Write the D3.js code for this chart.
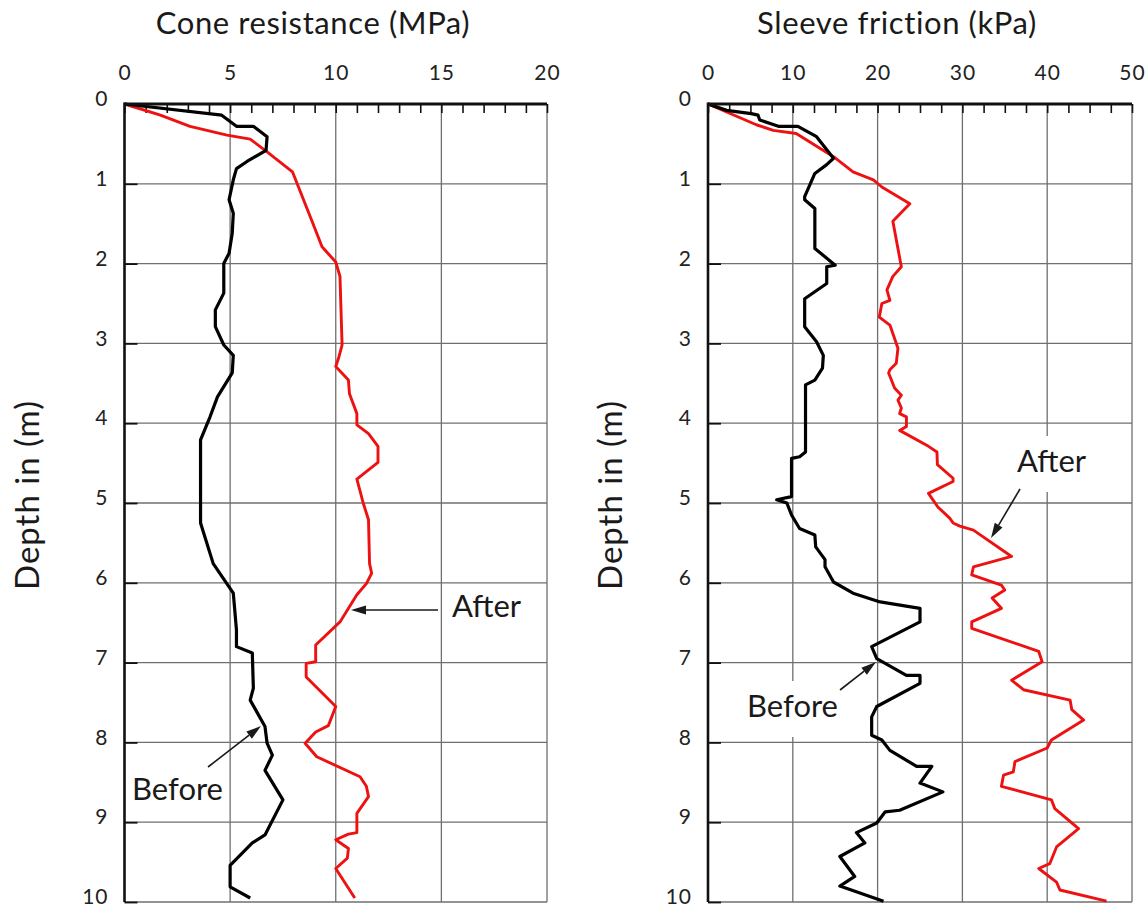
<!DOCTYPE html>
<html>
<head>
<meta charset="utf-8">
<script src="https://cdn.jsdelivr.net/npm/d3@7"></script>
<style>
  html, body { margin: 0; padding: 0; background: #fff; }
  svg { display: block; font-family: "Lato", "Open Sans", sans-serif; }
</style>
</head>
<body>
<svg id="chart" width="1147" height="907"></svg>
<script>
// ---------- DATA ----------
const depthTicks = [0,1,2,3,4,5,6,7,8,9,10];
const coneTicks = [0,5,10,15,20];
const sleeveTicks = [0,10,20,30,40,50];

// [value, depth (m)]
const coneBefore = [[0,0],[4.6,0.14],[5.3,0.28],[6.1,0.28],[6.75,0.41],[6.7,0.58],[5.8,0.72],[5.3,0.81],[5.15,0.95],[4.95,1.2],[5.15,1.37],[5.1,1.62],[4.95,1.87],[4.7,2.0],[4.7,2.37],[4.3,2.58],[4.3,2.79],[4.7,3.02],[5.15,3.15],[5.1,3.37],[4.4,3.67],[4.05,3.92],[3.6,4.21],[3.6,5.25],[4.2,5.76],[5.15,6.13],[5.3,6.59],[5.3,6.8],[6.05,6.88],[6.1,7.32],[5.95,7.47],[6.65,7.8],[6.75,8.01],[7.0,8.16],[6.65,8.35],[7.5,8.72],[6.65,9.16],[6.05,9.26],[5.0,9.54],[5.0,9.81],[5.95,9.95]];

const coneAfter = [[0,0],[1.7,0.14],[3.1,0.28],[4.85,0.39],[5.95,0.44],[6.75,0.6],[7.95,0.85],[8.85,1.45],[9.35,1.79],[10.0,1.98],[10.2,2.16],[10.3,3.02],[10.15,3.17],[10.0,3.29],[10.6,3.46],[10.65,3.63],[11.0,3.88],[11.0,4.02],[11.55,4.13],[12.0,4.29],[12.0,4.49],[11.0,4.7],[11.3,5.0],[11.55,5.21],[11.6,5.76],[11.7,5.88],[11.45,6.01],[11.0,6.15],[10.2,6.49],[9.05,6.78],[9.05,6.99],[8.6,7.01],[8.6,7.18],[10.0,7.55],[9.65,7.79],[9.05,7.87],[8.55,8.01],[9.1,8.18],[11.15,8.43],[11.45,8.55],[11.55,8.68],[11.0,8.89],[11.0,9.13],[10.6,9.15],[10.0,9.22],[10.6,9.33],[10.55,9.45],[10.0,9.58],[10.9,9.95]];

const sleeveBefore = [[0,0],[2.2,0.08],[5.1,0.12],[5.9,0.14],[6.1,0.2],[8.3,0.28],[10.6,0.28],[12.8,0.41],[14.8,0.68],[14.0,0.76],[12.6,0.87],[11.4,1.16],[11.4,1.2],[12.6,1.31],[12.6,1.81],[15.0,2.02],[14.0,2.04],[14.0,2.25],[11.4,2.44],[11.4,2.79],[12.8,2.98],[13.6,3.15],[13.5,3.31],[12.6,3.46],[11.5,3.52],[11.5,4.36],[10.8,4.42],[9.85,4.44],[9.85,4.92],[8.1,4.96],[9.3,5.0],[9.85,5.15],[10.8,5.32],[12.6,5.4],[12.7,5.55],[13.8,5.71],[13.8,5.8],[14.8,5.99],[17.1,6.13],[20.3,6.24],[25.0,6.32],[25.0,6.49],[19.3,6.8],[19.9,6.95],[23.4,7.16],[25.0,7.16],[25.0,7.26],[19.9,7.55],[19.3,7.68],[19.3,7.91],[20.5,7.97],[21.45,8.1],[24.6,8.3],[26.4,8.3],[25.0,8.51],[27.7,8.62],[22.6,8.85],[20.9,8.87],[19.9,9.01],[17.5,9.13],[18.5,9.26],[15.55,9.43],[17.3,9.68],[15.55,9.8],[20.7,9.99]];

const sleeveAfter = [[0,0],[5.7,0.26],[7.7,0.33],[10.4,0.37],[14.8,0.66],[17.1,0.85],[19.5,0.95],[20.5,1.04],[23.8,1.25],[21.8,1.47],[22.8,2.04],[21.8,2.16],[21.1,2.33],[21.45,2.46],[20.5,2.5],[20.2,2.67],[21.45,2.77],[22.4,3.06],[22.2,3.25],[21.45,3.33],[21.3,3.37],[22.0,3.56],[22.8,3.65],[22.4,3.71],[22.8,3.81],[22.6,3.88],[23.4,3.92],[23.4,4.04],[22.6,4.09],[26.0,4.29],[27.0,4.36],[27.05,4.52],[28.9,4.69],[28.9,4.73],[26.0,4.88],[27.1,5.05],[28.5,5.19],[28.9,5.25],[29.7,5.29],[31.3,5.34],[35.8,5.67],[31.3,5.8],[31.1,5.9],[34.6,6.03],[35.0,6.09],[33.5,6.19],[34.6,6.32],[31.1,6.49],[31.1,6.57],[39.0,6.86],[39.4,6.99],[35.8,7.22],[37.2,7.34],[42.7,7.47],[42.9,7.59],[44.3,7.72],[40.5,7.97],[40.0,8.07],[36.2,8.24],[36.0,8.37],[34.85,8.41],[34.6,8.55],[40.5,8.72],[40.9,8.83],[43.7,9.08],[42.1,9.22],[41.1,9.31],[40.3,9.52],[39.0,9.58],[41.1,9.75],[41.5,9.85],[47.0,9.99]];

const titles = ["Cone resistance (MPa)", "Sleeve friction (kPa)"];
const yTitle = "Depth in (m)";

// ---------- DRAW ----------
const svg = d3.select("#chart");
const gridColor = "#6f6f6f";
const redColor = "#ee1111";
const textColor = "#1a1a1a";

const panels = [
  { x0: 124.5, x1: 547, domain: [0,20], majors: coneTicks, minorStep: 1, title: titles[0], titleX: 313,
    before: coneBefore, after: coneAfter,
    ann: [
      { text: "After", tx: 452, ty: 617, ax1: 438, ay1: 610, ax2: 351, ay2: 610, bg: false },
      { text: "Before", tx: 132, ty: 800, ax1: 208, ay1: 767, ax2: 261, ay2: 726, bg: false }
    ] },
  { x0: 708, x1: 1132, domain: [0,50], majors: sleeveTicks, minorStep: 2.5, title: titles[1], titleX: 897,
    before: sleeveBefore, after: sleeveAfter,
    ann: [
      { text: "After", tx: 1017, ty: 472, ax1: 1020, ay1: 489, ax2: 991, ay2: 538, bg: true },
      { text: "Before", tx: 747, ty: 717, ax1: 840, ay1: 690, ax2: 876, ay2: 662, bg: true }
    ] }
];

const yTop = 104, yBot = 902;

panels.forEach(p => {
  const x = d3.scaleLinear().domain(p.domain).range([p.x0, p.x1]);
  const y = d3.scaleLinear().domain([0,10]).range([yTop, yBot]);
  const g = svg.append("g");

  // grid: horizontal
  g.append("g").selectAll("line").data(depthTicks.slice(1)).join("line")
    .attr("x1", p.x0).attr("x2", p.x1)
    .attr("y1", d => y(d)).attr("y2", d => y(d))
    .attr("stroke", gridColor).attr("stroke-width", 1.3);
  // grid: vertical
  g.append("g").selectAll("line").data(p.majors.slice(1)).join("line")
    .attr("x1", d => x(d)).attr("x2", d => x(d))
    .attr("y1", yTop).attr("y2", yBot)
    .attr("stroke", gridColor).attr("stroke-width", 1.3);

  // minor ticks on top axis (pointing down)
  const minors = d3.range(p.domain[0], p.domain[1] + 1e-9, p.minorStep);
  const minorAxis = d3.axisBottom(x).tickValues(minors).tickSize(9).tickFormat("");
  const mg = g.append("g").attr("transform", `translate(0,${yTop})`).call(minorAxis);
  mg.select(".domain").remove();
  mg.selectAll("line").attr("stroke", "#111").attr("stroke-width", 1.6);

  // inward ticks on left axis
  const inAxis = d3.axisRight(y).tickValues(depthTicks.slice(1)).tickSize(13).tickFormat("");
  const ig = g.append("g").attr("transform", `translate(${p.x0},0)`).call(inAxis);
  ig.select(".domain").remove();
  ig.selectAll("line").attr("stroke", "#111").attr("stroke-width", 1.8);

  // top labels
  const topAxis = d3.axisTop(x).tickValues(p.majors).tickSize(0).tickPadding(24).tickFormat(d3.format("d"));
  const tg = g.append("g").attr("transform", `translate(0,${yTop})`).call(topAxis);
  tg.select(".domain").remove();
  tg.selectAll("text").attr("font-size", 21).attr("fill", "#222").attr("font-family", "Lato")
    .attr("letter-spacing", 1);

  // left labels
  const leftAxis = d3.axisLeft(y).tickValues(depthTicks).tickSize(0).tickPadding(16).tickFormat(d3.format("d"));
  const lg = g.append("g").attr("transform", `translate(${p.x0},0)`).call(leftAxis);
  lg.select(".domain").remove();
  lg.selectAll("text").attr("font-size", 21).attr("fill", "#222").attr("dy", "0.08em")
    .attr("font-family", "Lato").attr("letter-spacing", 1);

  // annotation backgrounds & text
  const annG = g.append("g");
  p.ann.forEach(a => {
    const t = annG.append("text").attr("x", a.tx).attr("y", a.ty)
      .attr("font-size", 31).attr("fill", textColor).attr("font-family", "Lato").text(a.text);
    if (a.bg) {
      const bb = t.node().getBBox();
      annG.insert("rect", () => t.node())
        .attr("x", bb.x - 4).attr("y", a.ty - 36).attr("width", bb.width + 8).attr("height", 56)
        .attr("fill", "#fff");
    }
  });

  // data lines
  const line = d3.line().x(d => x(d[0])).y(d => y(d[1]));
  g.append("path").datum(p.after).attr("d", line)
    .attr("fill", "none").attr("stroke", redColor).attr("stroke-width", 2.9)
    .attr("stroke-linejoin", "round");
  g.append("path").datum(p.before).attr("d", line)
    .attr("fill", "none").attr("stroke", "#000").attr("stroke-width", 3.2)
    .attr("stroke-linejoin", "round");

  // axes domain lines (black)
  g.append("line").attr("x1", p.x0).attr("x2", p.x1).attr("y1", yTop).attr("y2", yTop)
    .attr("stroke", "#111").attr("stroke-width", 3);
  g.append("line").attr("x1", p.x0).attr("x2", p.x0).attr("y1", yTop - 1.5).attr("y2", yBot)
    .attr("stroke", "#111").attr("stroke-width", 2.6);

  // arrows
  p.ann.forEach(a => {
    const dx = a.ax2 - a.ax1, dy = a.ay2 - a.ay1;
    const len = Math.hypot(dx, dy), ux = dx / len, uy = dy / len;
    const hl = 15, hw = 4.5;
    const bx = a.ax2 - ux * hl, by = a.ay2 - uy * hl;
    g.append("line").attr("x1", a.ax1).attr("y1", a.ay1).attr("x2", bx).attr("y2", by)
      .attr("stroke", textColor).attr("stroke-width", 1.6);
    g.append("path")
      .attr("d", `M${a.ax2},${a.ay2}L${bx - uy * hw},${by + ux * hw}L${bx + uy * hw},${by - ux * hw}Z`)
      .attr("fill", textColor);
  });

  // titles
  g.append("text").attr("x", p.titleX).attr("y", 34).attr("text-anchor", "middle")
    .attr("font-size", 31).attr("letter-spacing", 0.6).attr("fill", textColor)
    .attr("font-family", "Lato").text(p.title);
  g.append("text").attr("transform", `translate(${p.x0 - 86},495) rotate(-90)`)
    .attr("text-anchor", "middle").attr("font-size", 33).attr("letter-spacing", 1)
    .attr("fill", textColor).attr("font-family", "Lato").text(yTitle);
});
</script>
</body>
</html>
